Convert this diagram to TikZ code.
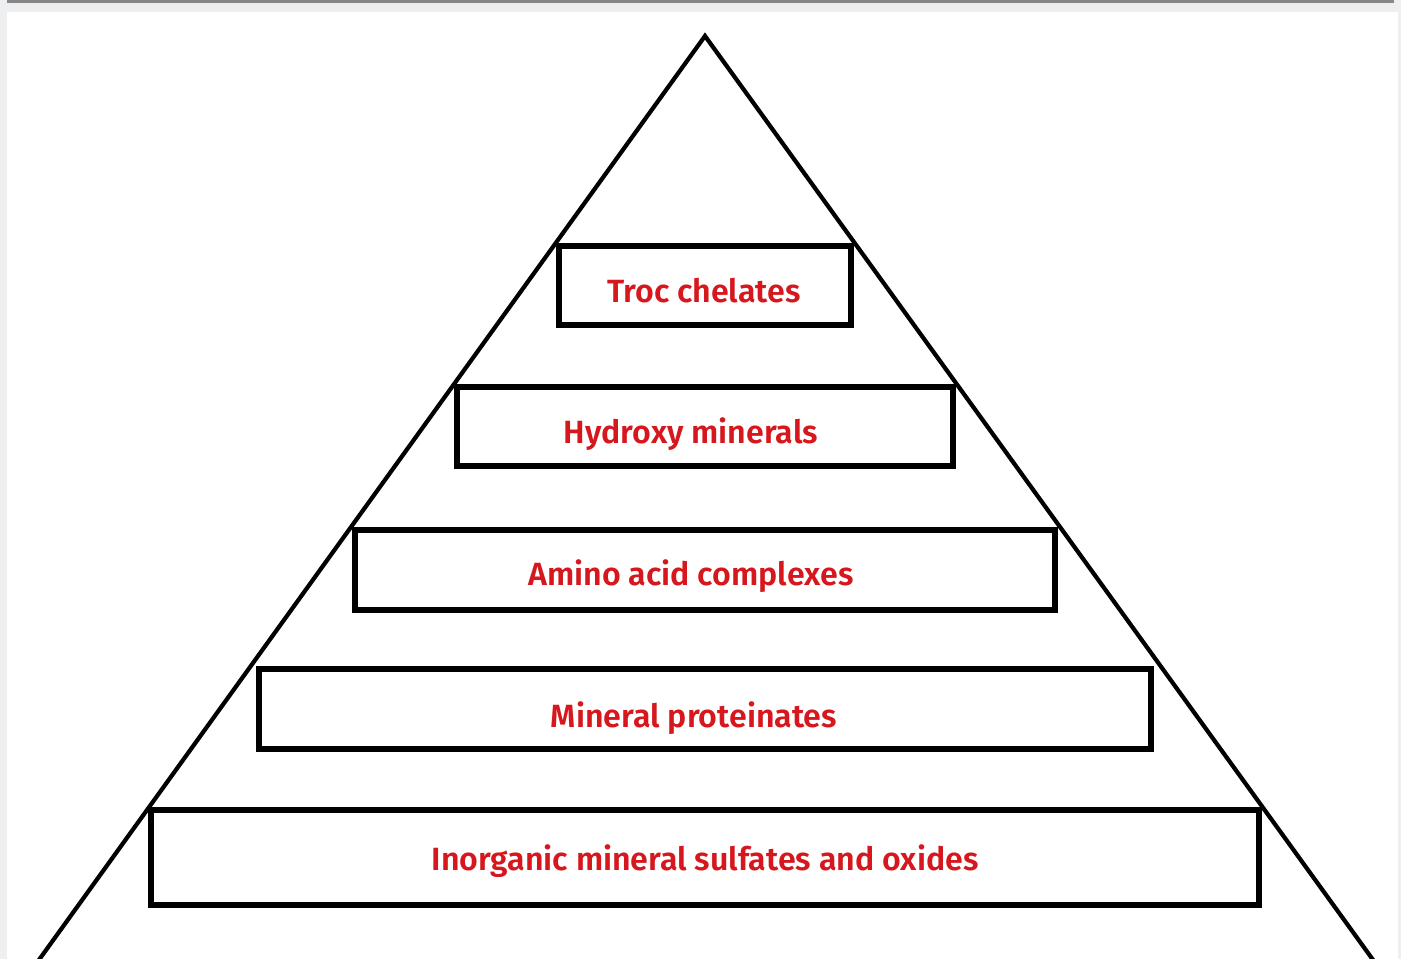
\documentclass[tikz,border=0pt]{standalone}
\usepackage{fontspec}
\setmainfont{Fira Sans}[BoldFont={* SemiBold}]
\definecolor{lbl}{RGB}{214,24,30}
\definecolor{pagebg}{RGB}{238,239,241}
\definecolor{topline}{RGB}{136,136,136}
\begin{document}
\begin{tikzpicture}[x=0.02cm,y=-0.02cm,
  tier/.style={draw=black,line width=2.9pt,fill=white},
  tierlabel/.style={text=lbl,font=\fontsize{18.3}{22}\selectfont\bfseries,inner sep=0pt,anchor=base}]
\useasboundingbox (0,0) rectangle (1401,959);
\fill[pagebg] (0,0) rectangle (1401,959);
\fill[white] (7,12) rectangle (1398,959);
\fill[topline] (7,0.5) rectangle (1394,3.5);
% pyramid
\coordinate (apex) at (705,36);
\coordinate (bl) at (36,964);
\coordinate (br) at (1376,964);
\begin{scope}
\clip (0,0) rectangle (1401,959);
\draw[line width=2.4pt,line join=miter] (bl) -- (apex) -- (br);
\end{scope}
% tiers
\draw[tier] (559,246) rectangle (851,325);
\draw[tier] (457,387) rectangle (953,466);
\draw[tier] (355,530) rectangle (1055,610);
\draw[tier] (259,669) rectangle (1151,749);
\draw[tier] (151,810) rectangle (1259,905);
\node[tierlabel] (t1) at (704,303) {Troc chelates};
\node[tierlabel] (t2) at (691,444) {Hydroxy minerals};
\node[tierlabel] (t3) at (691,586) {Amino acid complexes};
\node[tierlabel] (t4) at (694,727) {Mineral proteinates};
\node[tierlabel] (t5) at (705,870) {Inorganic mineral sulfates and oxides};
\end{tikzpicture}
\end{document}
